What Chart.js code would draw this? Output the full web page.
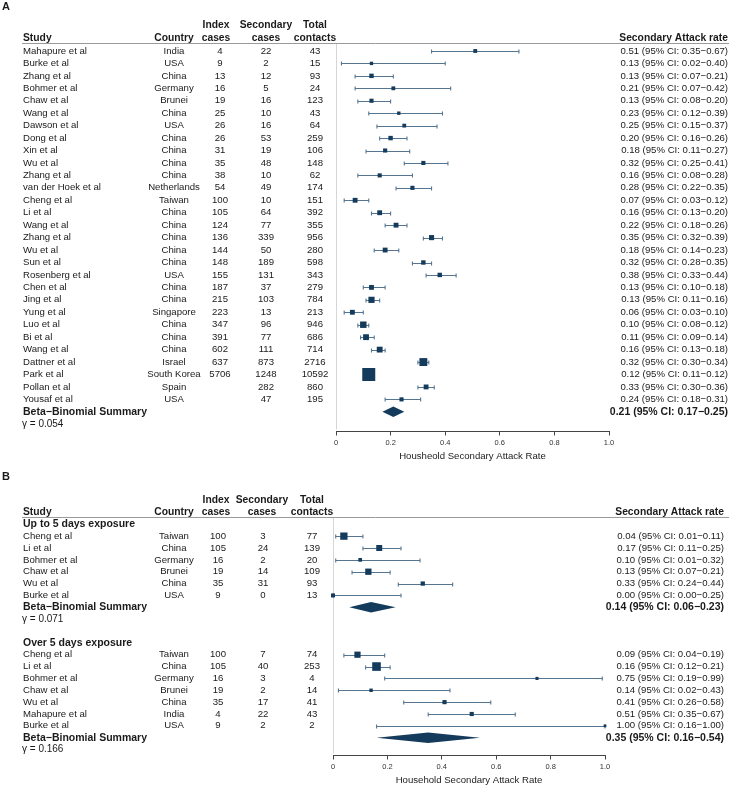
<!DOCTYPE html>
<html>
<head>
<meta charset="utf-8">
<script src="https://cdn.jsdelivr.net/npm/chart.js@4"></script>
<style>
  body { margin: 0; background: #fff; }
  canvas { display: block; }
</style>
</head>
<body>
<canvas id="panelA" width="729" height="470"></canvas>
<canvas id="panelB" width="729" height="317"></canvas>
<script>
// ---- Panel A: all studies ----
const studiesA = ['Mahapure et al', 'Burke et al', 'Zhang et al', 'Bohmer et al', 'Chaw et al', 'Wang et al',
    'Dawson et al', 'Dong et al', 'Xin et al', 'Wu et al', 'Zhang et al', 'van der Hoek et al', 'Cheng et al',
    'Li et al', 'Wang et al', 'Zhang et al', 'Wu et al', 'Sun et al', 'Rosenberg et al', 'Chen et al', 'Jing et al',
    'Yung et al', 'Luo et al', 'Bi et al', 'Wang et al', 'Dattner et al', 'Park et al', 'Pollan et al', 'Yousaf et al'];
const countriesA = ['India', 'USA', 'China', 'Germany', 'Brunei', 'China', 'USA', 'China', 'China', 'China', 'China',
    'Netherlands', 'Taiwan', 'China', 'China', 'China', 'China', 'China', 'USA', 'China', 'China', 'Singapore',
    'China', 'China', 'China', 'Israel', 'South Korea', 'Spain', 'USA'];
const indexA = [4, 9, 13, 16, 19, 25, 26, 26, 31, 35, 38, 54, 100, 105, 124, 136, 144, 148, 155, 187, 215, 223,
    347, 391, 602, 637, 5706, null, null];
const secondaryA = [22, 2, 12, 5, 16, 10, 16, 53, 19, 48, 10, 49, 10, 64, 77, 339, 50, 189, 131, 37, 103, 13, 96,
    77, 111, 873, 1248, 282, 47];
const totalA = [43, 15, 93, 24, 123, 43, 64, 259, 106, 148, 62, 174, 151, 392, 355, 956, 280, 598, 343, 279, 784,
    213, 946, 686, 714, 2716, 10592, 860, 195];
const sarA = [0.51, 0.13, 0.13, 0.21, 0.13, 0.23, 0.25, 0.20, 0.18, 0.32, 0.16, 0.28, 0.07, 0.16, 0.22, 0.35, 0.18,
    0.32, 0.38, 0.13, 0.13, 0.06, 0.10, 0.11, 0.16, 0.32, 0.12, 0.33, 0.24];
const loA = [0.35, 0.02, 0.07, 0.07, 0.08, 0.12, 0.15, 0.16, 0.11, 0.25, 0.08, 0.22, 0.03, 0.13, 0.18, 0.32, 0.14,
    0.28, 0.33, 0.10, 0.11, 0.03, 0.08, 0.09, 0.13, 0.30, 0.11, 0.30, 0.18];
const hiA = [0.67, 0.40, 0.21, 0.42, 0.20, 0.39, 0.37, 0.26, 0.27, 0.41, 0.28, 0.35, 0.12, 0.20, 0.26, 0.39, 0.23,
    0.35, 0.44, 0.18, 0.16, 0.10, 0.12, 0.14, 0.18, 0.34, 0.12, 0.36, 0.31];
// study weights (%)
const weightsA = [1.8, 1.4, 2.4, 1.8, 2.1, 1.4, 1.8, 2.4, 2.1, 2.1, 2.1, 2.1, 2.9, 2.9, 2.9, 3.2, 2.9, 2.4, 2.4,
    2.9, 4.7, 2.9, 5.1, 4.2, 4.2, 7.7, 20.8, 2.9, 2.1];
const summaryA = [0.21, 0.17, 0.25];
const gammaA = 0.054;

// ---- Panel B: up to 5 days exposure ----
const studiesUp = ['Cheng et al', 'Li et al', 'Bohmer et al', 'Chaw et al', 'Wu et al', 'Burke et al'];
const countriesUp = ['Taiwan', 'China', 'Germany', 'Brunei', 'China', 'USA'];
const indexUp = [100, 105, 16, 19, 35, 9];
const secondaryUp = [3, 24, 2, 14, 31, 0];
const totalUp = [77, 139, 20, 109, 93, 13];
const sarUp = [0.04, 0.17, 0.10, 0.13, 0.33, 0.00];
const loUp = [0.01, 0.11, 0.01, 0.07, 0.24, 0.00];
const hiUp = [0.11, 0.25, 0.32, 0.21, 0.44, 0.25];
const weightsUp = [30.1, 20.3, 7.7, 22.4, 10.4, 9.0];
const summaryUp = [0.14, 0.06, 0.23];
const gammaUp = 0.071;

// ---- Panel B: over 5 days exposure ----
const studiesOver = ['Cheng et al', 'Li et al', 'Bohmer et al', 'Chaw et al', 'Wu et al', 'Mahapure et al', 'Burke et al'];
const countriesOver = ['Taiwan', 'China', 'Germany', 'Brunei', 'China', 'India', 'USA'];
const indexOver = [100, 105, 16, 19, 35, 4, 9];
const secondaryOver = [7, 40, 3, 2, 17, 22, 2];
const totalOver = [74, 253, 4, 14, 41, 43, 2];
const sarOver = [0.09, 0.16, 0.75, 0.14, 0.41, 0.51, 1.00];
const loOver = [0.04, 0.12, 0.19, 0.02, 0.26, 0.35, 0.16];
const hiOver = [0.19, 0.21, 0.99, 0.43, 0.58, 0.67, 1.00];
const weightsOver = [21.9, 42.0, 5.5, 6.6, 9.8, 9.8, 4.4];
const summaryOver = [0.35, 0.16, 0.54];
const gammaOver = 0.166;

const navy = '#143b5c';
const whiskerColor = '#557590';
const textColor = '#1a1a1a';
const fontFamily = '"Liberation Sans", Arial, Helvetica, sans-serif';

function ciText(est, lo, hi) {
    return est.toFixed(2) + ' (95% CI: ' + lo.toFixed(2) + '\u2212' + hi.toFixed(2) + ')';
}

function buildRows(groups) {
    const rows = [];
    let r = 0;
    groups.forEach(function (g, gi) {
        if (gi > 0) r += 1; // empty line between groups
        if (g.title) {
            rows.push({ kind: 'title', row: r, text: g.title });
            r++;
        }
        for (let i = 0; i < g.studies.length; i++) {
            rows.push({
                kind: 'study', row: r, name: g.studies[i], country: g.countries[i],
                index: g.index[i], secondary: g.secondary[i], total: g.total[i],
                est: g.sar[i], lo: g.lo[i], hi: g.hi[i], weight: g.weights[i]
            });
            r++;
        }
        rows.push({ kind: 'summary', row: r, est: g.summary[0], lo: g.summary[1], hi: g.summary[2] });
        r++;
        rows.push({ kind: 'gamma', row: r, text: '\u03b3 = ' + g.gamma.toFixed(3) });
        r++;
    });
    return rows;
}

function forestPlugin(p) {
    return {
        id: 'forest',
        beforeDatasetsDraw(chart) {
            const ctx = chart.ctx, x = chart.scales.x, y = chart.scales.y, area = chart.chartArea;
            ctx.save();
            ctx.lineWidth = 1;
            // header rule
            ctx.strokeStyle = '#9a9a9a';
            ctx.beginPath();
            ctx.moveTo(p.ruleLeft, p.ruleY + 0.5);
            ctx.lineTo(chart.width, p.ruleY + 0.5);
            ctx.stroke();
            // line at zero
            const x0 = Math.round(x.getPixelForValue(0)) + 0.5;
            ctx.strokeStyle = '#d6d6d6';
            ctx.beginPath();
            ctx.moveTo(x0, area.top);
            ctx.lineTo(x0, area.bottom - 2);
            ctx.stroke();
            // confidence intervals
            ctx.strokeStyle = whiskerColor;
            ctx.lineWidth = 1.1;
            p.rows.forEach(function (r) {
                if (r.kind !== 'study') return;
                const yy = Math.round(y.getPixelForValue(r.row)) + 0.5;
                const a = x.getPixelForValue(r.lo), b = x.getPixelForValue(r.hi);
                ctx.beginPath();
                ctx.moveTo(a, yy); ctx.lineTo(b, yy);
                ctx.moveTo(a, yy - 2); ctx.lineTo(a, yy + 2);
                ctx.moveTo(b, yy - 2); ctx.lineTo(b, yy + 2);
                ctx.stroke();
            });
            ctx.restore();
        },
        afterDatasetsDraw(chart) {
            const ctx = chart.ctx, x = chart.scales.x, y = chart.scales.y;
            ctx.save();
            ctx.fillStyle = navy;
            p.rows.forEach(function (r) {
                if (r.kind !== 'summary') return;
                const yy = y.getPixelForValue(r.row);
                ctx.beginPath();
                ctx.moveTo(x.getPixelForValue(r.lo), yy);
                ctx.lineTo(x.getPixelForValue(r.est), yy - 5.3);
                ctx.lineTo(x.getPixelForValue(r.hi), yy);
                ctx.lineTo(x.getPixelForValue(r.est), yy + 5.3);
                ctx.closePath();
                ctx.fill();
            });
            ctx.restore();
        },
        afterDraw(chart) {
            const ctx = chart.ctx, y = chart.scales.y, c = p.cols;
            ctx.save();
            ctx.fillStyle = textColor;
            ctx.textBaseline = 'middle';

            ctx.font = 'bold 11px ' + fontFamily;
            ctx.textAlign = 'left';
            ctx.fillText(p.letter, 2, 7);

            ctx.font = 'bold 10.3px ' + fontFamily;
            ctx.fillText('Study', c.name, p.head2);
            ctx.textAlign = 'center';
            ctx.fillText('Country', c.country, p.head2);
            ctx.fillText('Index', c.indexHead, p.head1);
            ctx.fillText('cases', c.indexHead, p.head2);
            ctx.fillText('Secondary', c.secondaryHead, p.head1);
            ctx.fillText('cases', c.secondaryHead, p.head2);
            ctx.fillText('Total', c.total, p.head1);
            ctx.fillText('contacts', c.total, p.head2);
            ctx.textAlign = 'right';
            ctx.fillText('Secondary Attack rate', c.right, p.head2);

            p.rows.forEach(function (r) {
                const yy = y.getPixelForValue(r.row);
                if (r.kind === 'title') {
                    ctx.font = 'bold 10.5px ' + fontFamily;
                    ctx.textAlign = 'left';
                    ctx.fillText(r.text, c.name, yy);
                } else if (r.kind === 'study') {
                    ctx.font = '9.6px ' + fontFamily;
                    ctx.textAlign = 'left';
                    ctx.fillText(r.name, c.name, yy);
                    ctx.textAlign = 'center';
                    ctx.fillText(r.country, c.country, yy);
                    if (r.index !== null) ctx.fillText(String(r.index), c.index, yy);
                    ctx.fillText(String(r.secondary), c.secondary, yy);
                    ctx.fillText(String(r.total), c.total, yy);
                    ctx.textAlign = 'right';
                    ctx.fillText(ciText(r.est, r.lo, r.hi), c.right, yy);
                } else if (r.kind === 'summary') {
                    ctx.font = 'bold 10.5px ' + fontFamily;
                    ctx.textAlign = 'left';
                    ctx.fillText('Beta\u2212Binomial Summary', c.name, yy);
                    ctx.textAlign = 'right';
                    ctx.fillText(ciText(r.est, r.lo, r.hi), c.right, yy);
                } else if (r.kind === 'gamma') {
                    ctx.font = '10px ' + fontFamily;
                    ctx.textAlign = 'left';
                    ctx.fillText(r.text, c.name - 1, yy);
                }
            });
            ctx.restore();
        }
    };
}

function makePanel(canvasId, p) {
    const studyRows = p.rows.filter(function (r) { return r.kind === 'study'; });
    const radii = studyRows.map(function (r) { return p.boxScale * Math.sqrt(r.weight) / Math.SQRT2; });
    return new Chart(document.getElementById(canvasId), {
        type: 'scatter',
        data: {
            datasets: [{
                data: studyRows.map(function (r) { return { x: r.est, y: r.row }; }),
                pointStyle: 'rect',
                pointRadius: radii,
                pointHoverRadius: radii,
                backgroundColor: navy,
                borderColor: navy,
                borderWidth: 0,
                clip: false
            }]
        },
        options: {
            responsive: false,
            animation: false,
            events: [],
            layout: { padding: p.padding },
            plugins: {
                legend: { display: false },
                tooltip: { enabled: false }
            },
            scales: {
                x: {
                    type: 'linear',
                    min: 0,
                    max: 1,
                    ticks: { stepSize: 0.2, maxRotation: 0, padding: 3, color: '#333', font: { size: 7.5, family: fontFamily } },
                    grid: { drawOnChartArea: false, drawTicks: true, tickLength: 4, color: '#444' },
                    border: { display: true, color: '#444' },
                    title: {
                        display: true,
                        text: p.xTitle,
                        color: '#222',
                        font: { size: 9.6, family: fontFamily },
                        padding: { top: 0, bottom: 0 }
                    }
                },
                y: { type: 'linear', reverse: true, min: p.yMin, max: p.yMax, display: false }
            }
        },
        plugins: [forestPlugin(p)]
    });
}

makePanel('panelA', {
    letter: 'A',
    rows: buildRows([{
        studies: studiesA, countries: countriesA, index: indexA, secondary: secondaryA, total: totalA,
        sar: sarA, lo: loA, hi: hiA, weights: weightsA, summary: summaryA, gamma: gammaA
    }]),
    cols: { name: 23, country: 174, indexHead: 216, index: 220, secondaryHead: 266, secondary: 266, total: 315, right: 728 },
    head1: 25.5, head2: 38, ruleY: 43, ruleLeft: 22,
    padding: { left: 336, right: 120, top: 44, bottom: 8 },
    yMin: -0.56, yMax: 30.58,
    boxScale: 2.85,
    xTitle: 'Housheold Secondary Attack Rate'
});

makePanel('panelB', {
    letter: 'B',
    rows: buildRows([
        {
            title: 'Up to 5 days exposure',
            studies: studiesUp, countries: countriesUp, index: indexUp, secondary: secondaryUp, total: totalUp,
            sar: sarUp, lo: loUp, hi: hiUp, weights: weightsUp, summary: summaryUp, gamma: gammaUp
        },
        {
            title: 'Over 5 days exposure',
            studies: studiesOver, countries: countriesOver, index: indexOver, secondary: secondaryOver, total: totalOver,
            sar: sarOver, lo: loOver, hi: hiOver, weights: weightsOver, summary: summaryOver, gamma: gammaOver
        }
    ]),
    cols: { name: 23, country: 174, indexHead: 216, index: 218, secondaryHead: 262, secondary: 263, total: 312, right: 724 },
    head1: 30, head2: 42, ruleY: 47, ruleLeft: 22,
    padding: { left: 333, right: 124, top: 48, bottom: 1 },
    yMin: -0.53, yMax: 19.5,
    boxScale: 1.33,
    xTitle: 'Household Secondary Attack Rate'
});
</script>
</body>
</html>
